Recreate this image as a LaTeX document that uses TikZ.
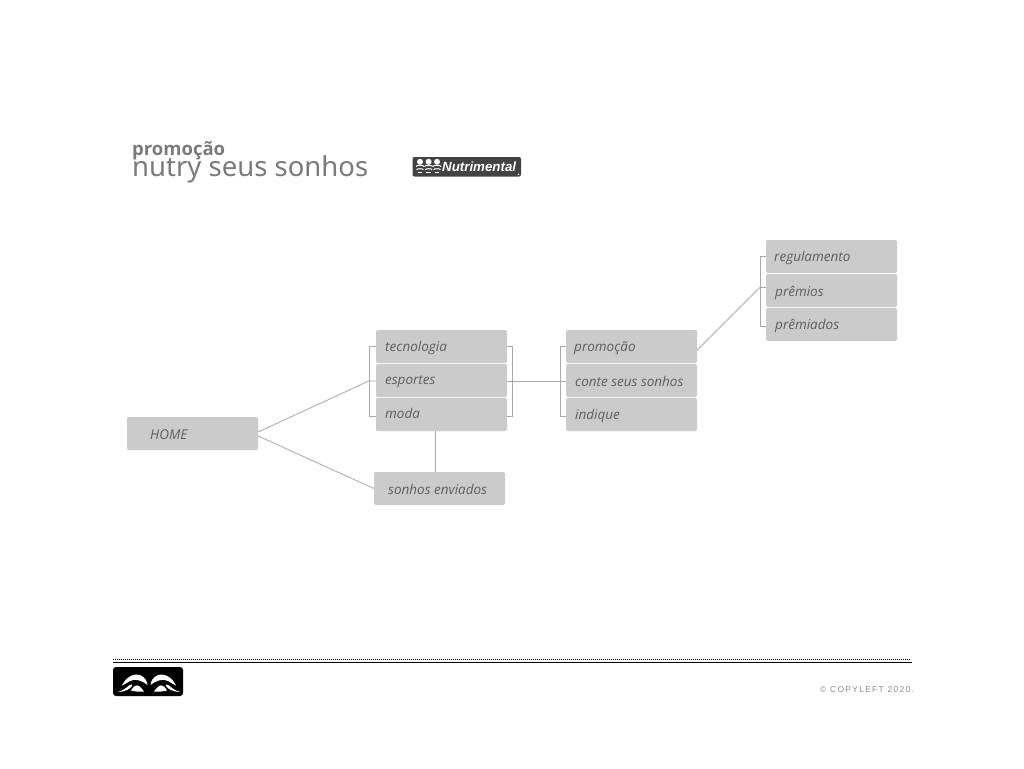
\documentclass[tikz,border=0pt]{standalone}
\usepackage{fontspec}
\setmainfont{Open Sans}
\newfontfamily\titlefont{Noto Sans}
\newfontfamily\boldlogo{Liberation Sans}
\newfontfamily\copyfont[LetterSpace=15]{Liberation Sans}
\definecolor{boxgray}{HTML}{CBCBCB}
\definecolor{labelgray}{HTML}{5E5E5E}
\definecolor{linegray}{HTML}{A8A8A8}
\definecolor{titlegray}{HTML}{7A7A7A}
\newcommand{\eyeshapes}{%
    \fill[white] (122,685.5) .. controls (126,677) and (134,672.5) .. (141,675.5) .. controls (145,677.5) and (147,681) .. (147.5,685) .. controls (143,681) and (135,678) .. (130,681) .. controls (127,682.5) and (125,684.5) .. (122,685.5) -- cycle;
    \fill[white] (118,692) .. controls (123,690.5) and (126,688) .. (129,685.5) .. controls (131,684) and (133,684) .. (132,686) .. controls (130,689) and (126,691.5) .. (118,692) -- cycle;
    \fill[white] (131,690.5) .. controls (133,686) and (137,684.5) .. (139,686) .. controls (141,687.5) and (143,690) .. (144,691.5) .. controls (140,692) and (135,691.5) .. (131,690.5) -- cycle;
}
\tikzset{
  navbox/.style={draw=none,fill=boxgray,rounded corners=2pt,minimum width=131pt,minimum height=33pt,inner sep=0pt},
  navlabel/.style={text=labelgray,font=\fontsize{13.5}{16}\selectfont\itshape,anchor=base west,inner sep=0pt},
  link/.style={draw=linegray,line width=0.8pt},
  bracket/.style={draw=linegray,line width=0.6pt},
}
\begin{document}
\begin{tikzpicture}[x=1pt,y=-1pt]
\useasboundingbox (0,0) rectangle (1024,768);
\fill[white] (0,0) rectangle (1024,768);
\node[navbox] (home) at (192.5,433.5) {};
\node[navbox] (tec) at (441.5,346.5) {};
\node[navbox] (esp) at (441.5,380.5) {};
\node[navbox] (moda) at (441.5,414.5) {};
\node[navbox] (env) at (439.5,488.5) {};
\node[navbox] (pro) at (631.5,346.5) {};
\node[navbox] (con) at (631.5,380.5) {};
\node[navbox] (ind) at (631.5,414.5) {};
\node[navbox] (reg) at (831.5,256.5) {};
\node[navbox] (pre) at (831.5,290.5) {};
\node[navbox] (pri) at (831.5,324.5) {};
\node[navlabel] (homel) at (150,439.5) {HOME};
\node[navlabel] (tecl) at (385,351.7) {tecnologia};
\node[navlabel] (espl) at (385,384) {esportes};
\node[navlabel] (modal) at (385,418) {moda};
\node[navlabel] (envl) at (388,494) {sonhos enviados};
\node[navlabel] (prol) at (574,351.7) {promoção};
\node[navlabel] (conl) at (575,386) {conte seus sonhos};
\node[navlabel] (indl) at (575,419) {indique};
\node[navlabel] (regl) at (774,261.7) {regulamento};
\node[navlabel] (prel) at (775,296) {prêmios};
\node[navlabel] (pril) at (775,329) {prêmiados};
% junction points on the brackets
\coordinate (jesp) at ([xshift=-7pt,yshift=-0.5pt]esp.west);
\coordinate (jpre) at ([xshift=-6pt,yshift=3pt]pre.west);
\draw[link] ([yshift=1.5pt]home.east) -- (jesp) -- ([yshift=-0.5pt]esp.west);
\draw[link] ([yshift=-2.5pt]home.east) -- (env.west);
\draw[link] (435.5,0 |- moda.south) -- (435.5,0 |- env.north);
\draw[link] ([yshift=-0.5pt]esp.east) -- ([yshift=-0.5pt]con.west);
\draw[link] ([yshift=-3.5pt]pro.east) -- (jpre) -- ([yshift=3pt]pre.west);
\draw[bracket] (tec.west) -- ++(-7,0) -- ([xshift=-7pt,yshift=-2pt]moda.west) -- ([yshift=-2pt]moda.west);
\draw[bracket] (tec.east) -- ++(5.5,0) -- ([xshift=5.5pt,yshift=-2pt]moda.east) -- ([yshift=-2pt]moda.east);
\draw[bracket] (pro.west) -- ++(-6,0) -- ([xshift=-6pt,yshift=-2pt]ind.west) -- ([yshift=-2pt]ind.west);
\draw[bracket] (reg.west) -- ++(-6,0) -- ([xshift=-6pt,yshift=-1.5pt]pri.west) -- ([yshift=-1.5pt]pri.west);
% heading
\node[anchor=base west,inner sep=0pt,text=titlegray,font=\fontsize{18.5}{20}\selectfont\bfseries] (sub) at (132,155) {promoção};
\node[anchor=base west,inner sep=0pt,text=titlegray,font=\titlefont\fontsize{27.5}{30}\selectfont] (ttl) at (132,176.2) {nutry seus sonhos};
% Nutrimental logo
\fill[black!74,rounded corners=2pt] (412.5,157) rectangle (521,176.5);
\foreach \cx in {420,428.6,437}{
  \fill[white] (\cx,161.8) circle (3);
  \draw[white,line width=1pt] (\cx-4,166.5) arc[start angle=180,end angle=360,x radius=4,y radius=1.2];
  \draw[white,line width=1pt] (\cx-3.4,169.7) arc[start angle=180,end angle=360,x radius=3.4,y radius=1];
  \draw[white,line width=0.9pt] (\cx-2.4,172.6) -- (\cx+2.4,172.6);
}
\node[anchor=base west,inner sep=0pt,text=white,font=\boldlogo\fontsize{13.3}{15}\selectfont\bfseries\itshape] (nutri) at (442,171.5) {Nutrimental};
\fill[white] (518.5,174.3) circle (0.8);
% footer
\draw[black,line width=1pt,dash pattern=on 1pt off 1pt] (113,659.9) -- (911,659.9);
\draw[black,line width=1pt] (113,662.5) -- (911.5,662.5);
\fill[black,rounded corners=3pt] (113,667) rectangle (183,696);
\eyeshapes
\begin{scope}[shift={(298,0)},xscale=-1]
\eyeshapes
\end{scope}
\node[anchor=base west,inner sep=0pt,text=black!45,font=\copyfont\fontsize{8.5}{10}\selectfont] (copy) at (820,692) {© COPYLEFT 2020.};
\end{tikzpicture}
\end{document}
